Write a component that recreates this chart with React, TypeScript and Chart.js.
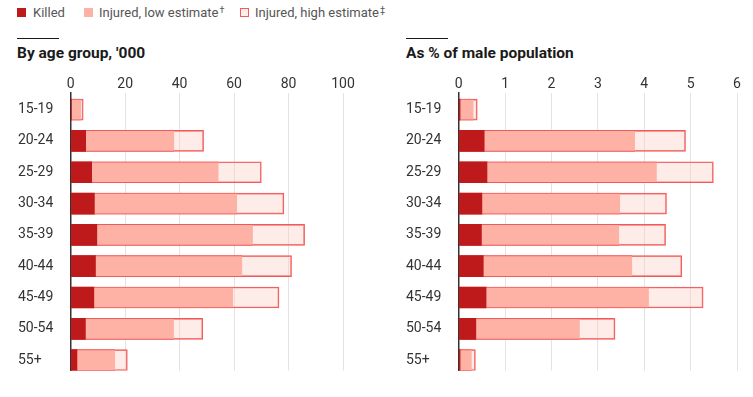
import React, { useEffect, useRef } from "react";
import { Chart, registerables } from "chart.js";
Chart.register(...registerables);

const categories = ["15-19", "20-24", "25-29", "30-34", "35-39", "40-44", "45-49", "50-54", "55+"];
const seriesNames = ["Killed", "Injured, low estimate", "Injured, high estimate"];
const seriesMarks = ["", "†", "‡"];

// By age group, '000
const killedK = [0.3, 5.5, 7.7, 8.7, 9.6, 9.1, 8.5, 5.4, 2.3];
const injuredLowK = [3.8, 38, 54.3, 61.1, 66.9, 63, 59.6, 37.9, 16.3];
const injuredHighK = [4.6, 48.8, 70, 78.3, 85.9, 81.1, 76.5, 48.5, 20.8];

// As % of male population
const killedPct = [0.03, 0.55, 0.61, 0.5, 0.49, 0.53, 0.59, 0.37, 0.03];
const injuredLowPct = [0.32, 3.8, 4.27, 3.48, 3.46, 3.74, 4.1, 2.61, 0.28];
const injuredHighPct = [0.4, 4.89, 5.49, 4.48, 4.46, 4.81, 5.27, 3.37, 0.36];

const leftTicks = { max: 100, step: 20 };
const rightTicks = { max: 6, step: 1 };

const C_KILLED = "#bf1a1b";
const C_LOW = "#fdb2a5";
const C_HIGH = "rgba(250, 200, 188, 0.35)";
const C_BORDER = "#f3585a";
const FONT = "Roboto, 'Noto Sans', sans-serif";

Chart.defaults.font.family = FONT;

function BarPanel(props: {
  killed: number[];
  low: number[];
  high: number[];
  max: number;
  step: number;
  left: number;
  padRight: number;
}) {
  const ref = useRef<HTMLCanvasElement>(null);
  useEffect(() => {
    const chart = new Chart(ref.current as HTMLCanvasElement, {
      type: "bar",
      data: {
        labels: categories,
        datasets: [
          {
            label: seriesNames[0],
            data: props.killed,
            backgroundColor: C_KILLED,
            borderWidth: 0,
            grouped: false,
            barThickness: 21,
          },
          {
            label: seriesNames[1],
            data: props.low,
            backgroundColor: C_LOW,
            borderColor: C_BORDER,
            borderWidth: { top: 1, bottom: 1, left: 0, right: 0 },
            borderSkipped: false,
            grouped: false,
            barThickness: 21,
          },
          {
            label: seriesNames[2],
            data: props.high,
            backgroundColor: C_HIGH,
            borderColor: C_BORDER,
            borderWidth: 1,
            borderSkipped: false,
            grouped: false,
            barThickness: 21,
          },
        ],
      },
      options: {
        indexAxis: "y",
        responsive: false,
        animation: false,
        layout: { padding: { left: 0, right: props.padRight, top: 0, bottom: 2 } },
        plugins: { legend: { display: false }, tooltip: { enabled: false }, title: { display: false } },
        scales: {
          x: {
            type: "linear",
            position: "top",
            min: 0,
            max: props.max,
            ticks: { stepSize: props.step, font: { size: 14 }, color: "#333", padding: 0 },
            grid: { color: "#e3e3e3", lineWidth: 1, drawTicks: false },
            border: { display: false },
            afterFit: (s: any) => {
              s.height = 18;
            },
          },
          y: {
            type: "category",
            ticks: { font: { size: 14 }, color: "#333", crossAlign: "far", padding: 0 },
            grid: { display: false, drawTicks: false },
            border: { display: true, color: "#333", width: 1.5 },
            afterFit: (s: any) => {
              s.width = 52.7;
            },
            afterBuildTicks: (s: any) => {
              s._startValue = -0.531;
              s._valueRange = 8.865;
            },
          },
        },
      },
    } as any);
    return () => chart.destroy();
  }, []);
  return (
    <canvas
      ref={ref}
      width={339}
      height={304}
      style={{ position: "absolute", left: props.left, top: 75, width: 339, height: 304 }}
    />
  );
}

const textBase: React.CSSProperties = {
  position: "absolute",
  fontFamily: FONT,
  whiteSpace: "nowrap",
  lineHeight: "16px",
};

const markStyle: React.CSSProperties = {
  fontSize: 9,
  verticalAlign: "top",
  lineHeight: "10px",
  marginLeft: 1,
};

function LegendItem(props: { i: number; boxLeft: number; textLeft: number; box: React.CSSProperties }) {
  return (
    <>
      <div
        style={{
          position: "absolute",
          left: props.boxLeft,
          top: 8,
          width: 9,
          height: 9,
          boxSizing: "border-box",
          ...props.box,
        }}
      />
      <div style={{ ...textBase, left: props.textLeft, top: 5, fontSize: 13, color: "#555" }}>
        {seriesNames[props.i]}
        {seriesMarks[props.i] ? <span style={markStyle}>{seriesMarks[props.i]}</span> : null}
      </div>
    </>
  );
}

export default function App() {
  return (
    <div style={{ position: "absolute", left: 0, top: 0, width: 753, height: 397, background: "#fff" }}>
      <LegendItem i={0} boxLeft={17} textLeft={33} box={{ background: C_KILLED }} />
      <LegendItem i={1} boxLeft={84} textLeft={99} box={{ background: C_LOW }} />
      <LegendItem
        i={2}
        boxLeft={240}
        textLeft={255}
        box={{ background: "#fdeeea", border: `1px solid ${C_BORDER}` }}
      />

      <div style={{ position: "absolute", left: 17, top: 38, width: 42, height: 1, background: "#1a1a1a" }} />
      <div style={{ ...textBase, left: 17, top: 45, fontSize: 15.5, fontWeight: 700, color: "#1a1a1a" }}>
        By age group, '000
      </div>
      <div style={{ position: "absolute", left: 406, top: 38, width: 42, height: 1, background: "#1a1a1a" }} />
      <div style={{ ...textBase, left: 406, top: 45, fontSize: 15.5, fontWeight: 700, color: "#1a1a1a" }}>
        As % of male population
      </div>

      <BarPanel
        killed={killedK}
        low={injuredLowK}
        high={injuredHighK}
        max={leftTicks.max}
        step={leftTicks.step}
        left={18}
        padRight={14}
      />
      <BarPanel
        killed={killedPct}
        low={injuredLowPct}
        high={injuredHighPct}
        max={rightTicks.max}
        step={rightTicks.step}
        left={406}
        padRight={8}
      />
    </div>
  );
}
